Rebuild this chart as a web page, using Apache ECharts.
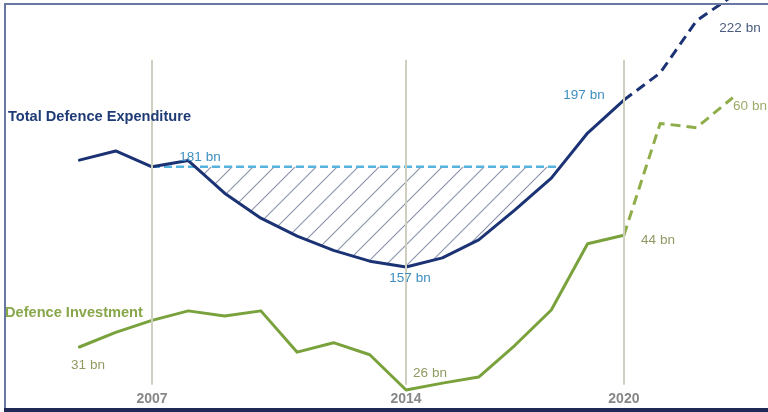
<!DOCTYPE html>
<html>
<head>
<meta charset="utf-8">
<script src="https://cdn.jsdelivr.net/npm/echarts@6/dist/echarts.min.js"></script>
<style>
  html, body { margin: 0; padding: 0; background: #fff; }
  #chart { width: 768px; height: 412px; }
</style>
</head>
<body>
<div id="chart"></div>
<script>
// years on the x axis
const actualYears = [2005, 2006, 2007, 2008, 2009, 2010, 2011, 2012, 2013, 2014, 2015, 2016, 2017, 2018, 2019, 2020]
const planYears = [2020, 2021, 2022, 2023]
const markerYears = [2007, 2014, 2020]

// Total Defence Expenditure (bn)
const expenditureActual = [182.6, 184.8, 181, 182.5, 174.7, 168.7, 164.4, 161.0, 158.4, 157, 159.2, 163.5, 170.7, 178.3, 189.1, 197]
const expenditurePlan = [197, 203.5, 216.0, 222]

// Defence Investment (bn)
const investmentActual = [31, 32.7, 34.1, 35.2, 34.6, 35.2, 30.4, 31.5, 30.1, 26, 26.8, 27.5, 31.2, 35.3, 43.0, 44]
const investmentPlan = [44, 57.0, 56.5, 60]

// reference level of 2007
const baseYear = 2007
const baseValue = 181

const zip = (xs, ys) => xs.map((x, i) => [x, ys[i]])

// polygon under the reference level, from the data
const expPoints = zip(actualYears, expenditureActual)
const hatchPoly = []
let crossEnd = baseYear
for (let i = 1; i < expPoints.length; i++) {
  const p = expPoints[i - 1], c = expPoints[i]
  if (c[0] <= baseYear) continue
  const cross = () => {
    const t = (p[1] - baseValue) / (p[1] - c[1])
    return [p[0] + t * (c[0] - p[0]), baseValue]
  }
  if (p[1] >= baseValue && c[1] < baseValue) hatchPoly.push(cross())
  if (c[1] < baseValue) hatchPoly.push(c)
  if (p[1] < baseValue && c[1] >= baseValue) {
    crossEnd = cross()[0]
    hatchPoly.push([crossEnd, baseValue])
    break
  }
}

// hatch pattern
const tile = document.createElement('canvas')
const s = 21
tile.width = s
tile.height = s
const ctx = tile.getContext('2d')
ctx.strokeStyle = '#8a93a9'
ctx.lineWidth = 1.1
ctx.beginPath()
ctx.moveTo(-2, s + 2); ctx.lineTo(s + 2, -2)
ctx.moveTo(-2, 2); ctx.lineTo(2, -2)
ctx.moveTo(s - 2, s + 2); ctx.lineTo(s + 2, s - 2)
ctx.stroke()

const navy = '#1b3274'
const green = '#7aa23c'
const fontFamily = '"Liberation Sans", Arial, sans-serif'

const labelText = (text, x, y, color, opts = {}) => ({
  type: 'text',
  x, y,
  z: 20,
  style: {
    text,
    fill: color,
    font: (opts.weight || 'normal') + ' ' + (opts.size || 13.5) + 'px ' + fontFamily,
    textAlign: opts.align || 'center',
    textVerticalAlign: 'middle'
  }
})

const chart = echarts.init(document.getElementById('chart'))

const option = {
  backgroundColor: '#ffffff',
  animation: false,
  grid: { left: 0, right: 0, top: 0, bottom: 0 },
  xAxis: {
    type: 'value',
    min: 2002.813,
    max: 2023.97,
    axisLine: { show: false },
    axisTick: { show: false },
    splitLine: { show: false },
    axisLabel: {
      inside: true,
      margin: 6,
      customValues: markerYears,
      formatter: v => String(v),
      color: '#878787',
      fontSize: 14,
      fontWeight: 'bold',
      fontFamily
    }
  },
  yAxis: [
    { type: 'value', min: 122.27, max: 220.97, show: false, splitLine: { show: false } },
    { type: 'value', min: 23.44, max: 71.35, show: false, splitLine: { show: false } }
  ],
  graphic: [
    { type: 'rect', shape: { x: 4, y: 3, width: 764, height: 2 }, style: { fill: '#6877a3' }, z: 30 },
    { type: 'rect', shape: { x: 4, y: 3, width: 2, height: 409 }, style: { fill: '#6877a3' }, z: 30 },
    { type: 'rect', shape: { x: 4, y: 408, width: 764, height: 4 }, style: { fill: '#1f2a56' }, z: 30 },
    labelText('Total Defence Expenditure', 8, 117, '#1f3b76', { weight: 'bold', size: 14.6, align: 'left' }),
    labelText('Defence Investment', 5, 313, '#88a64a', { weight: 'bold', size: 14.6, align: 'left' }),
    labelText('181 bn', 200, 157, '#3e8fc0'),
    labelText('157 bn', 410, 278, '#3e8fc0'),
    labelText('197 bn', 584, 95, '#3e8fc0'),
    labelText('222 bn', 740, 28, '#4a5a80'),
    labelText('31 bn', 88, 365, '#8e9a62'),
    labelText('26 bn', 430, 373, '#8e9a62'),
    labelText('44 bn', 658, 240, '#8e9a62'),
    labelText('60 bn', 750, 106, '#9aab68')
  ],
  series: [
    {
      name: 'hatch',
      type: 'custom',
      yAxisIndex: 0,
      z: 1,
      silent: true,
      data: [0],
      renderItem: (params, api) => ({
        type: 'polygon',
        shape: { points: hatchPoly.map(p => api.coord(p)) },
        style: { fill: { image: tile, repeat: 'repeat' }, stroke: 'none' }
      })
    },
    {
      name: 'reference',
      type: 'line',
      yAxisIndex: 0,
      z: 2,
      symbol: 'none',
      data: [[baseYear, baseValue], [crossEnd, baseValue]],
      lineStyle: { color: '#56b3de', width: 2.5, type: [8, 4] }
    },
    {
      name: 'Defence Investment',
      type: 'line',
      yAxisIndex: 1,
      z: 3,
      clip: false,
      symbol: 'none',
      data: zip(actualYears, investmentActual),
      lineStyle: { color: green, width: 3, join: 'round', cap: 'round' },
      markLine: {
        silent: true,
        symbol: 'none',
        label: { show: false },
        lineStyle: { color: '#cfcfbf', width: 2, type: 'solid' },
        data: markerYears.map(y => [{ coord: [y, 64.4] }, { coord: [y, 26.6] }])
      }
    },
    {
      name: 'Defence Investment plan',
      type: 'line',
      yAxisIndex: 1,
      z: 3,
      symbol: 'none',
      data: zip(planYears, investmentPlan),
      lineStyle: { color: '#8fae4a', width: 3, type: [10, 6], join: 'round' }
    },
    {
      name: 'Total Defence Expenditure',
      type: 'line',
      yAxisIndex: 0,
      z: 4,
      symbol: 'none',
      data: expPoints,
      lineStyle: { color: navy, width: 3, join: 'round', cap: 'round' }
    },
    {
      name: 'Total Defence Expenditure plan',
      type: 'line',
      yAxisIndex: 0,
      z: 4,
      symbol: 'none',
      data: zip(planYears, expenditurePlan),
      lineStyle: { color: navy, width: 3, type: [10, 6], join: 'round' }
    }
  ]
}

chart.setOption(option)
</script>
</body>
</html>
